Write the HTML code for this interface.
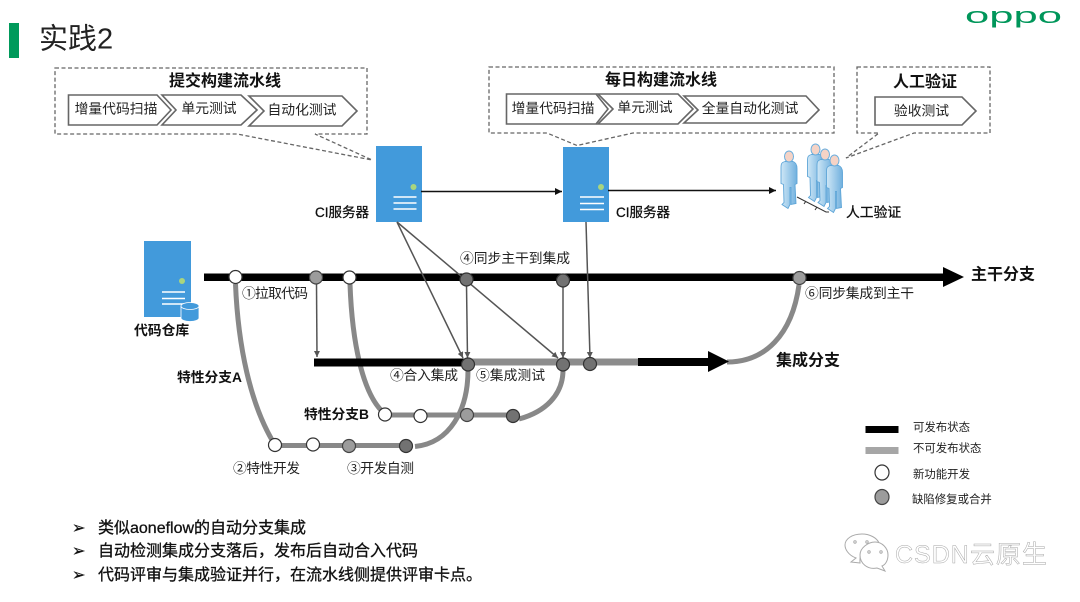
<!DOCTYPE html>
<html><head><meta charset="utf-8">
<style>
html,body{margin:0;padding:0;background:#fff;width:1080px;height:602px;overflow:hidden}
svg{display:block;filter:blur(.35px)}
text{font-family:"Liberation Sans","Noto Sans CJK SC",sans-serif;fill:#222}
.b{font-weight:700;fill:#111}
.ch{fill:#fff;stroke:#666;stroke-width:1.6}
.dash{fill:none;stroke:#666;stroke-width:1.3;stroke-dasharray:4 2.5}
.g{fill:none;stroke:#888;stroke-width:5}
.ar{stroke:#555;stroke-width:1.5;fill:none;marker-end:url(#ga)}
.cw{fill:#fff;stroke:#333;stroke-width:1.2}
.c1{fill:#9c9c9c;stroke:#444;stroke-width:1.2}
.c2{fill:#727272;stroke:#333;stroke-width:1.2}
.t13{font-size:13.800px}
.t10{font-size:11.400px}
.m{stroke:#111;stroke-width:.3;fill:#111}
</style></head><body>
<svg width="1080" height="602" viewBox="0 0 1080 602" xmlns="http://www.w3.org/2000/svg">
<defs>
<marker id="ga" markerWidth="8" markerHeight="8" refX="6" refY="3" orient="auto" markerUnits="userSpaceOnUse"><path d="M0 0L6 3L0 6Z" fill="#555"/></marker>
<marker id="ka" markerWidth="9" markerHeight="8" refX="7" refY="3.5" orient="auto" markerUnits="userSpaceOnUse"><path d="M0 0L7 3.5L0 7Z" fill="#111"/></marker>
<linearGradient id="pg" x1="0" x2="1"><stop offset="0" stop-color="#cfe7f6"/><stop offset="1" stop-color="#70b0de"/></linearGradient>
<g id="person">
<path d="M-4 7C-8 8-8 10-8 14L-8 29L-5.500 30L-5 48L-7 50L-1 54L1 50L1 33L2 33L2 50L7 49L6 30L8 29L8 14C8 10 7 8 4 7Z" fill="url(#pg)" stroke="#5fa6d8" stroke-width=".9"/>
<ellipse cx="0" cy="2" rx="4.500" ry="5.500" fill="#f5d3c6" stroke="#6aaede" stroke-width="1"/>
</g>
</defs>
<rect width="1080" height="602" fill="#fff"/>

<rect x="9" y="23" width="10" height="35" fill="#009a5b"/>
<text x="39" y="48.500" font-size="29" style="fill:#222">实践2</text>
<text x="965" y="23" font-size="22" textLength="97" lengthAdjust="spacingAndGlyphs" style="fill:#00965a">oppo</text>

<!-- box 1 -->
<path class="dash" d="M55 68H367V134H315L372 160L237 134H55Z"/>
<text x="225" y="86" text-anchor="middle" font-size="16" class="b">提交构建流水线</text>
<path class="ch" d="M68.500 95H157L171 110L157 125H68.500Z"/>
<path class="ch" d="M162 95H241L257 110L241 125H162L176 110Z"/>
<path class="ch" d="M249 96H342L357 111L342 126H249L264 111Z"/>
<text x="116" y="113.500" text-anchor="middle" class="t13">增量代码扫描</text>
<text x="209" y="113" text-anchor="middle" class="t13">单元测试</text>
<text x="302" y="114.500" text-anchor="middle" class="t13">自动化测试</text>

<!-- box 2 -->
<path class="dash" d="M489 67H834V133H633L577 145.500L547 133H489Z"/>
<text x="661" y="85" text-anchor="middle" font-size="16" class="b">每日构建流水线</text>
<path class="ch" d="M506.500 94H596L608 109L596 124H506.500Z"/>
<path class="ch" d="M598 94H678L693 109L678 124H598L613 109Z"/>
<path class="ch" d="M684 96H806L819 110L806 123H684L698 110Z"/>
<text x="553" y="113" text-anchor="middle" class="t13">增量代码扫描</text>
<text x="645" y="112" text-anchor="middle" class="t13">单元测试</text>
<text x="750" y="113" text-anchor="middle" class="t13">全量自动化测试</text>

<!-- box 3 -->
<path class="dash" d="M857 67H990V133H914L846 158L879 133H857Z"/>
<text x="925" y="87" text-anchor="middle" font-size="16" class="b">人工验证</text>
<path class="ch" d="M875 97H962L976 111L962 125H875Z"/>
<text x="921.500" y="115.500" text-anchor="middle" class="t13">验收测试</text>

<!-- servers -->
<rect x="376" y="146" width="46" height="76" fill="#429adb"/>
<circle cx="413.500" cy="187" r="3" fill="#a9d57e"/>
<path d="M393.500 197H416.500M393.500 203H416.500M393.500 209H416.500" stroke="#fff" stroke-width="1.400"/>
<text x="315" y="217" font-size="13.500" class="m">CI服务器</text>

<rect x="563" y="147" width="46" height="75" fill="#429adb"/>
<circle cx="601" cy="187" r="3" fill="#a9d57e"/>
<path d="M580 197H604M580 203.500H604M580 209.500H604" stroke="#fff" stroke-width="1.400"/>
<text x="616" y="217" font-size="13.500" class="m">CI服务器</text>

<path d="M421 191.500H562" stroke="#111" stroke-width="1.600" fill="none" marker-end="url(#ka)"/>
<path d="M608 190.500H776" stroke="#111" stroke-width="1.600" fill="none" marker-end="url(#ka)"/>

<!-- people -->
<path d="M797 197L826 212L829 212M806 201L804 204M817 207L815 210" stroke="#333" stroke-width="1" fill="none"/>
<use href="#person" x="789" y="154.500"/>
<use href="#person" x="815.500" y="147.500"/>
<use href="#person" x="825" y="152.500"/>
<use href="#person" x="834.500" y="158.500"/>
<text x="846" y="217" font-size="13.800" class="m">人工验证</text>

<!-- repo -->
<rect x="144" y="241" width="47" height="76" fill="#429adb"/>
<circle cx="182" cy="281" r="3" fill="#a9d57e"/>
<path d="M162 292H185M162 298.500H185M162 304H185" stroke="#fff" stroke-width="1.400"/>
<path d="M181 306V318A9 3.500 0 0 0 199 318V306Z" fill="#429adb" stroke="#fff" stroke-width=".8"/>
<ellipse cx="190" cy="306" rx="9" ry="3.500" fill="#429adb" stroke="#fff" stroke-width=".8"/>
<text x="134" y="335" font-size="13.800" class="b">代码仓库</text>

<!-- trunk -->
<rect x="204" y="273.500" width="741" height="7.500" fill="#000"/>
<path d="M943 267L964 277L943 287Z" fill="#000"/>
<text x="971" y="279.500" font-size="16" class="b">主干分支</text>

<!-- branch curves -->
<path class="g" d="M235.500 284C238 345 250 405 275 445"/>
<path class="g" d="M275 445.500H406"/>
<path class="g" d="M415 446.500C450 443 468 410 468 370"/>
<path class="g" d="M350 284C352 340 362 395 385 414"/>
<path class="g" d="M385 415H513"/>
<path class="g" d="M519 419C545 412 563 395 563 370"/>
<path class="g" d="M727 362C765 362 792 335 799 285"/>

<!-- integration -->
<rect x="466" y="358.500" width="173" height="7" fill="#8c8c8c"/>
<rect x="314" y="358.500" width="153" height="8" fill="#000"/>
<rect x="638" y="358" width="72" height="8" fill="#000"/>
<path d="M708 351L729 361.500L708 372Z" fill="#000"/>
<text x="776" y="365.500" font-size="16" class="b">集成分支</text>

<!-- arrows -->
<path class="ar" d="M316.500 284L317 357"/>
<path class="ar" d="M397 222L463 358"/>
<path class="ar" d="M397 222L558 358"/>
<path class="ar" d="M466.500 285L467.500 358"/>
<path class="ar" d="M563 286V358"/>
<path class="ar" d="M586 222L590 358"/>

<!-- nodes -->
<circle class="cw" cx="235.500" cy="277" r="6.500"/>
<circle class="c1" cx="316" cy="277.500" r="6.500"/>
<circle class="cw" cx="349.500" cy="277.500" r="6.500"/>
<circle class="c2" cx="466.500" cy="279.500" r="6.500"/>
<circle class="c2" cx="563" cy="280.500" r="6.500"/>
<circle class="c1" cx="799.500" cy="278" r="6.500"/>
<circle class="c2" cx="468" cy="364.500" r="6.500"/>
<circle class="c2" cx="563" cy="364.500" r="6.500"/>
<circle class="c2" cx="590" cy="364" r="6.500"/>
<circle class="cw" cx="275" cy="445" r="6.500"/>
<circle class="cw" cx="313" cy="444.500" r="6.500"/>
<circle class="c1" cx="349" cy="446" r="6.500"/>
<circle class="c2" cx="406" cy="446" r="6.500"/>
<circle class="cw" cx="385" cy="414.500" r="6.500"/>
<circle class="cw" cx="420.500" cy="416" r="6.500"/>
<circle class="c1" cx="467" cy="415" r="6.500"/>
<circle class="c2" cx="513" cy="416" r="6.500"/>

<!-- labels -->
<text x="242" y="298" class="t13" textLength="66">①拉取代码</text>
<text x="460" y="263" class="t13" textLength="110">④同步主干到集成</text>
<text x="390" y="380" class="t13" textLength="68">④合入集成</text>
<text x="476" y="380" class="t13" textLength="69">⑤集成测试</text>
<text x="177" y="382" font-size="13.800" class="b" textLength="65">特性分支A</text>
<text x="304" y="419" font-size="13.800" class="b" textLength="65">特性分支B</text>
<text x="233" y="473" class="t13" textLength="67">②特性开发</text>
<text x="347" y="473" class="t13" textLength="67">③开发自测</text>
<text x="805" y="298" class="t13" textLength="109">⑥同步集成到主干</text>

<!-- legend -->
<rect x="865.500" y="426" width="33" height="7" fill="#000"/>
<rect x="865.500" y="447" width="33" height="7" fill="#a6a6a6"/>
<ellipse class="cw" cx="882" cy="472.500" rx="7" ry="7.500"/>
<ellipse class="c1" cx="882" cy="497" rx="7" ry="7.500"/>
<text x="913" y="431" class="t10">可发布状态</text>
<text x="913" y="452" class="t10">不可发布状态</text>
<text x="913" y="478" class="t10">新功能开发</text>
<text x="912" y="503" class="t10">缺陷修复或合并</text>

<!-- bullets -->
<g font-size="16">
<text x="72" y="533" class="m">➢</text>
<text x="98" y="533" class="m">类似aoneflow的自动分支集成</text>
<text x="72" y="556" class="m">➢</text>
<text x="98" y="556" class="m">自动检测集成分支落后，发布后自动合入代码</text>
<text x="72" y="580" class="m">➢</text>
<text x="98" y="580" class="m">代码评审与集成验证并行，在流水线侧提供评审卡点。</text>
</g>

<!-- watermark -->
<g fill="#fff" stroke="#aaa" stroke-width="1">
<path d="M860 563L851 562L856 558C848 555 845 549 845 545C845 539 852 534 862 534C870 534 877 538 879 543C868 541 859 549 860 563Z"/>
<path d="M860 555C860 548 868 542 875 542C882 542 888 548 888 555C888 561 885 565 882 566L885 571L877 568C867 570 860 563 860 555Z"/>
<circle cx="855" cy="542" r="1.200"/><circle cx="867" cy="542" r="1.200"/>
<circle cx="869" cy="552" r="1.200"/><circle cx="881" cy="552" r="1.200"/>
</g>
<text x="895" y="563" font-size="25" letter-spacing="1" style="fill:#fff;stroke:#a8a8a8;stroke-width:.5">CSDN云原生</text>
</svg>
</body></html>
